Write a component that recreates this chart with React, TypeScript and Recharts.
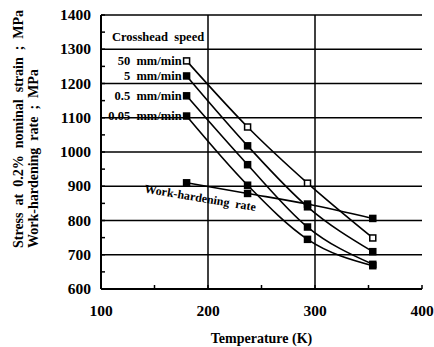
import React from "react";
import {
  CartesianGrid,
  LabelList,
  Line,
  LineChart,
  XAxis,
  YAxis,
} from "recharts";

const temperatures = [180, 237, 293, 354];
const speed50 = [1266, 1073, 909, 749];
const speed5 = [1222, 1018, 840, 709];
const speed05 = [1164, 963, 781, 672];
const speed005 = [1105, 903, 745, 668];
const workHardening = [910, 879, 848, 806];

const seriesLabels = ["50  mm/min", "5  mm/min", "0.5  mm/min", "0.05  mm/min"];
const xMajor = [100, 200, 300, 400];
const xMinor = [150, 250, 350];
const yMajor = [600, 700, 800, 900, 1000, 1100, 1200, 1300, 1400];
const yMinor = [650, 750, 850, 950, 1050, 1150, 1250, 1350];

const data = temperatures.map((t, i) => ({
  t,
  s50: speed50[i],
  s5: speed5[i],
  s05: speed05[i],
  s005: speed005[i],
  wh: workHardening[i],
}));

const FONT = "'Liberation Serif', 'DejaVu Serif', serif";
const PLOT_LEFT = 101;
const PLOT_BOTTOM = 289;
const pre = { whiteSpace: "pre" } as React.CSSProperties;

const Square = (props: any) => {
  const { cx, cy, hollow } = props;
  if (cx == null || cy == null) return null;
  return (
    <rect
      x={cx - 3}
      y={cy - 3}
      width={6}
      height={6}
      fill={hollow ? "#fff" : "#000"}
      stroke="#000"
      strokeWidth={1.5}
    />
  );
};

const speedLabel = (text: string) => (props: any) => {
  const { x, y, index } = props;
  if (index !== 0) return null;
  return (
    <text
      x={x - 5}
      y={y + 4}
      textAnchor="end"
      fontFamily={FONT}
      fontWeight="bold"
      fontSize={12.5}
      fill="#000"
      style={pre}
    >
      {text}
    </text>
  );
};

const whLabel = (props: any) => {
  const { x, y, index } = props;
  if (index !== 0) return null;
  const cx = x + 13;
  const cy = y + 19;
  return (
    <text
      x={cx}
      y={cy}
      textAnchor="middle"
      fontFamily={FONT}
      fontWeight="bold"
      fontSize={12}
      fill="#000"
      style={pre}
      transform={`rotate(9.5 ${cx} ${cy})`}
    >
      Work-hardening  rate
    </text>
  );
};

const YTick = (props: any) => {
  const { x, y, payload } = props;
  const major = yMajor.includes(payload.value);
  return (
    <g>
      <line x1={PLOT_LEFT} y1={y} x2={PLOT_LEFT + 4} y2={y} stroke="#000" strokeWidth={1.5} />
      {major && (
        <text
          x={x}
          y={y + 5}
          textAnchor="end"
          fontFamily={FONT}
          fontWeight="bold"
          fontSize={15.5}
          fill="#000"
        >
          {payload.value}
        </text>
      )}
    </g>
  );
};

const XTick = (props: any) => {
  const { x, y, payload } = props;
  const major = xMajor.includes(payload.value);
  return (
    <g>
      <line x1={x} y1={PLOT_BOTTOM} x2={x} y2={PLOT_BOTTOM - 4} stroke="#000" strokeWidth={1.5} />
      {major && (
        <text
          x={x}
          y={y + 23}
          textAnchor="middle"
          fontFamily={FONT}
          fontWeight="bold"
          fontSize={15.5}
          fill="#000"
        >
          {payload.value}
        </text>
      )}
    </g>
  );
};

export default function App() {
  return (
    <div style={{ position: "absolute", left: 0, top: 0, background: "#fff" }}>
      <LineChart
        width={434}
        height={347}
        data={data}
        margin={{ top: 15, right: 12, bottom: 0, left: 0 }}
      >
        <CartesianGrid
          stroke="#000"
          strokeWidth={1.5}
          horizontalValues={yMajor}
          verticalValues={[200, 300]}
        />
        <XAxis
          dataKey="t"
          type="number"
          domain={[100, 400]}
          ticks={[...xMajor, ...xMinor].sort((a, b) => a - b)}
          interval={0}
          height={58}
          tickLine={false}
          axisLine={{ stroke: "#000", strokeWidth: 2 }}
          tickSize={0}
          tickMargin={4}
          tick={<XTick />}
          label={{
            value: "Temperature  (K)",
            position: "insideBottom",
            offset: 4,
            style: { fontFamily: FONT, fontWeight: "bold", fontSize: 14, fill: "#000", whiteSpace: "pre" },
          }}
        />
        <XAxis
          xAxisId="top"
          orientation="top"
          dataKey="t"
          type="number"
          domain={[100, 400]}
          tick={false}
          tickLine={false}
          height={0}
          axisLine={{ stroke: "#000", strokeWidth: 2 }}
        />
        <YAxis
          type="number"
          domain={[600, 1400]}
          ticks={[...yMajor, ...yMinor].sort((a, b) => a - b)}
          width={101}
          tickLine={false}
          tickMargin={4}
          axisLine={{ stroke: "#000", strokeWidth: 2 }}
          tick={<YTick />}
          interval={0}
        />
        <YAxis
          yAxisId="right"
          orientation="right"
          type="number"
          domain={[600, 1400]}
          tick={false}
          tickLine={false}
          width={0}
          axisLine={{ stroke: "#000", strokeWidth: 2 }}
        />
        <Line
          dataKey="s50"
          type="monotoneX"
          stroke="#000"
          strokeWidth={1.6}
          dot={<Square hollow />}
          isAnimationActive={false}
        >
          <LabelList dataKey="s50" content={speedLabel(seriesLabels[0])} />
        </Line>
        <Line
          dataKey="s5"
          type="monotoneX"
          stroke="#000"
          strokeWidth={1.6}
          dot={<Square />}
          isAnimationActive={false}
        >
          <LabelList dataKey="s5" content={speedLabel(seriesLabels[1])} />
        </Line>
        <Line
          dataKey="s05"
          type="monotoneX"
          stroke="#000"
          strokeWidth={1.6}
          dot={<Square />}
          isAnimationActive={false}
        >
          <LabelList dataKey="s05" content={speedLabel(seriesLabels[2])} />
        </Line>
        <Line
          dataKey="s005"
          type="monotoneX"
          stroke="#000"
          strokeWidth={1.6}
          dot={<Square />}
          isAnimationActive={false}
        >
          <LabelList dataKey="s005" content={speedLabel(seriesLabels[3])} />
        </Line>
        <Line
          dataKey="wh"
          type="monotoneX"
          stroke="#000"
          strokeWidth={1.6}
          dot={<Square />}
          isAnimationActive={false}
        >
          <LabelList dataKey="wh" content={whLabel} />
        </Line>
        <text
          x={112}
          y={41}
          fontFamily={FONT}
          fontWeight="bold"
          fontSize={12.5}
          fill="#000"
          style={pre}
        >
          Crosshead  speed
        </text>
        <text
          transform="translate(23 248) rotate(-90)"
          fontFamily={FONT}
          fontWeight="bold"
          fontSize={14}
          fill="#000"
          style={pre}
        >
          Stress  at  0.2%  nominal  strain  ;  MPa
        </text>
        <text
          transform="translate(38 248) rotate(-90)"
          fontFamily={FONT}
          fontWeight="bold"
          fontSize={14}
          fill="#000"
          style={pre}
        >
          Work-hardening  rate  ;  MPa
        </text>
      </LineChart>
    </div>
  );
}
